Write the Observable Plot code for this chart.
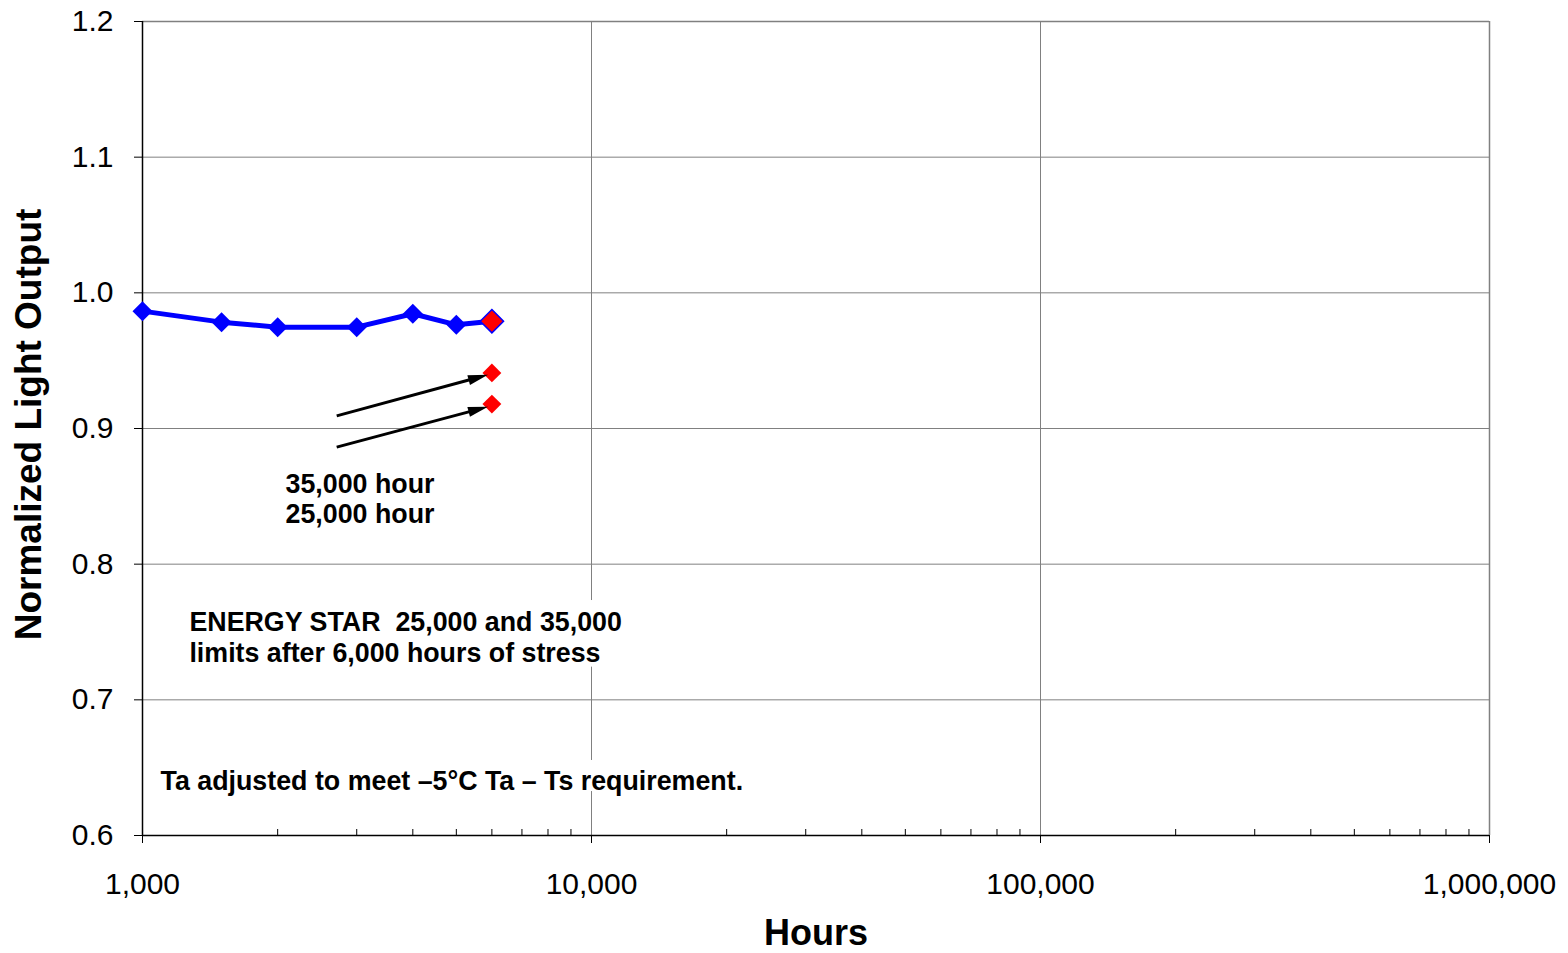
<!DOCTYPE html>
<html>
<head>
<meta charset="utf-8">
<script src="https://cdn.jsdelivr.net/npm/d3@7"></script>
<script src="https://cdn.jsdelivr.net/npm/@observablehq/plot@0.6"></script>
<style>
  html, body { margin: 0; padding: 0; background: #fff; }
</style>
</head>
<body>
<div id="chart"></div>
<script>
// ---- data ----
const hours = [1000, 1500, 2000, 3000, 4000, 5000, 6000];
const lightOutput = [0.9865, 0.9784, 0.9747, 0.9747, 0.9846, 0.9764, 0.9791];

const finalHours = [6000];
const finalOutput = [0.9791];

const limitHours = [6000, 6000];
const limitOutput = [0.941, 0.918];

const arrowX1 = [2714, 2714];
const arrowY1 = [0.9089, 0.8859];
const arrowX2 = [5896, 5896];
const arrowY2 = [0.9392, 0.9157];

const noteText = [
  "35,000 hour",
  "25,000 hour",
  "ENERGY STAR \u00a025,000 and 35,000",
  "limits after 6,000 hours of stress",
  "Ta adjusted to meet \u20135\u00b0C Ta \u2013 Ts requirement."
];
const noteX = [2082, 2082, 1272, 1272, 1097];
const noteY = [0.8587, 0.8366, 0.757, 0.7342, 0.6398];

// white backgrounds behind the text boxes
const boxX1 = [1247, 1069];
const boxX2 = [11900, 22600];
const boxY1 = [0.7241, 0.6324];
const boxY2 = [0.7732, 0.6553];

const xTicks = [1000, 10000, 100000, 1000000];
const xMinorTicks = [2000,3000,4000,5000,6000,7000,8000,9000,
  20000,30000,40000,50000,60000,70000,80000,90000,
  200000,300000,400000,500000,600000,700000,800000,900000];
const yTicks = [0.6, 0.7, 0.8, 0.9, 1.0, 1.1, 1.2];
const yGrid = [0.7, 0.8, 0.9, 1.0, 1.1];
const xGrid = [10000, 100000];

const idx = (a) => a.map((_, i) => i);
const GRAY = "#808080";

function arrows(index, scales) {
  const g = d3.create("svg:g");
  for (let i = 0; i < arrowX1.length; i++) {
    const x1 = scales.x(arrowX1[i]), y1 = scales.y(arrowY1[i]);
    const x2 = scales.x(arrowX2[i]), y2 = scales.y(arrowY2[i]);
    const dx = x2 - x1, dy = y2 - y1, L = Math.hypot(dx, dy);
    const ux = dx / L, uy = dy / L;
    const hl = 20, hw = 5;
    const bx = x2 - ux * hl, by = y2 - uy * hl;
    g.append("line")
      .attr("x1", x1).attr("y1", y1)
      .attr("x2", bx + ux * 2).attr("y2", by + uy * 2)
      .attr("stroke", "black").attr("stroke-width", 3);
    g.append("polygon")
      .attr("points", [
        [x2, y2],
        [bx - uy * hw, by + ux * hw],
        [bx + uy * hw, by - ux * hw]
      ].map(p => p.join(",")).join(" "))
      .attr("fill", "black");
  }
  return g.node();
}

const chart = Plot.plot({
  width: 1568,
  height: 953,
  marginLeft: 142,
  marginRight: 79,
  marginTop: 21,
  marginBottom: 118,
  style: {
    fontFamily: "'Liberation Sans', Arial, Helvetica, sans-serif",
    fontSize: "30px",
    background: "white",
    color: "black"
  },
  x: { type: "log", domain: [1000, 1000000] },
  y: { domain: [0.6, 1.2] },
  marks: [
    // grid
    Plot.ruleY(yGrid, { stroke: GRAY, strokeWidth: 1 }),
    Plot.ruleX(xGrid, { stroke: GRAY, strokeWidth: 1 }),
    // frame (top & right gray)
    Plot.ruleY([1.2], { stroke: GRAY, strokeWidth: 1.5 }),
    Plot.ruleX([1000000], { stroke: GRAY, strokeWidth: 1.5 }),
    // text box backgrounds
    Plot.rect(idx(boxX1), {
      x1: i => boxX1[i], x2: i => boxX2[i],
      y1: i => boxY1[i], y2: i => boxY2[i],
      fill: "white"
    }),
    // minor ticks (inside, up from bottom)
    Plot.tickX(xMinorTicks, { stroke: "black", strokeWidth: 1, insetTop: 808 }),
    // axes
    Plot.axisX({
      ticks: xTicks, tickSize: 8, tickPadding: 29,
      tickFormat: d3.format(","), label: null, stroke: "black"
    }),
    Plot.axisY({
      ticks: yTicks, tickSize: 8, tickPadding: 21,
      tickFormat: d3.format(".1f"), label: null, stroke: "black"
    }),
    Plot.ruleX([1000], { stroke: "black", strokeWidth: 1.5 }),
    Plot.ruleY([0.6], { stroke: "black", strokeWidth: 1.5 }),
    // axis titles
    Plot.text(["Hours"], {
      frameAnchor: "bottom", dy: 98, text: d => d,
      fontSize: 36, fontWeight: "bold", lineAnchor: "middle", textAnchor: "middle"
    }),
    Plot.text(["Normalized Light Output"], {
      frameAnchor: "left", dx: -113, dy: -4, rotate: -90, text: d => d,
      fontSize: 37, fontWeight: "bold", lineAnchor: "middle", textAnchor: "middle"
    }),
    // data line
    Plot.line(idx(hours), {
      x: i => hours[i], y: i => lightOutput[i],
      stroke: "#0000ff", strokeWidth: 5
    }),
    Plot.dot(idx(hours), {
      x: i => hours[i], y: i => lightOutput[i],
      symbol: "diamond2", r: 9, fill: "#0000ff", stroke: "none"
    }),
    Plot.dot(idx(finalHours), {
      x: i => finalHours[i], y: i => finalOutput[i],
      symbol: "diamond2", r: 10.5, fill: "#ff0000", stroke: "#0000ff", strokeWidth: 1.5
    }),
    Plot.dot(idx(limitHours), {
      x: i => limitHours[i], y: i => limitOutput[i],
      symbol: "diamond2", r: 8.5, fill: "#ff0000", stroke: "none"
    }),
    // arrows
    arrows,
    // annotations
    Plot.text(idx(noteText), {
      x: i => noteX[i], y: i => noteY[i], text: i => noteText[i],
      textAnchor: "start", lineAnchor: "middle",
      fontSize: 26.8, fontWeight: "bold", fill: "black"
    })
  ]
});

document.getElementById("chart").appendChild(chart);
</script>
</body>
</html>
